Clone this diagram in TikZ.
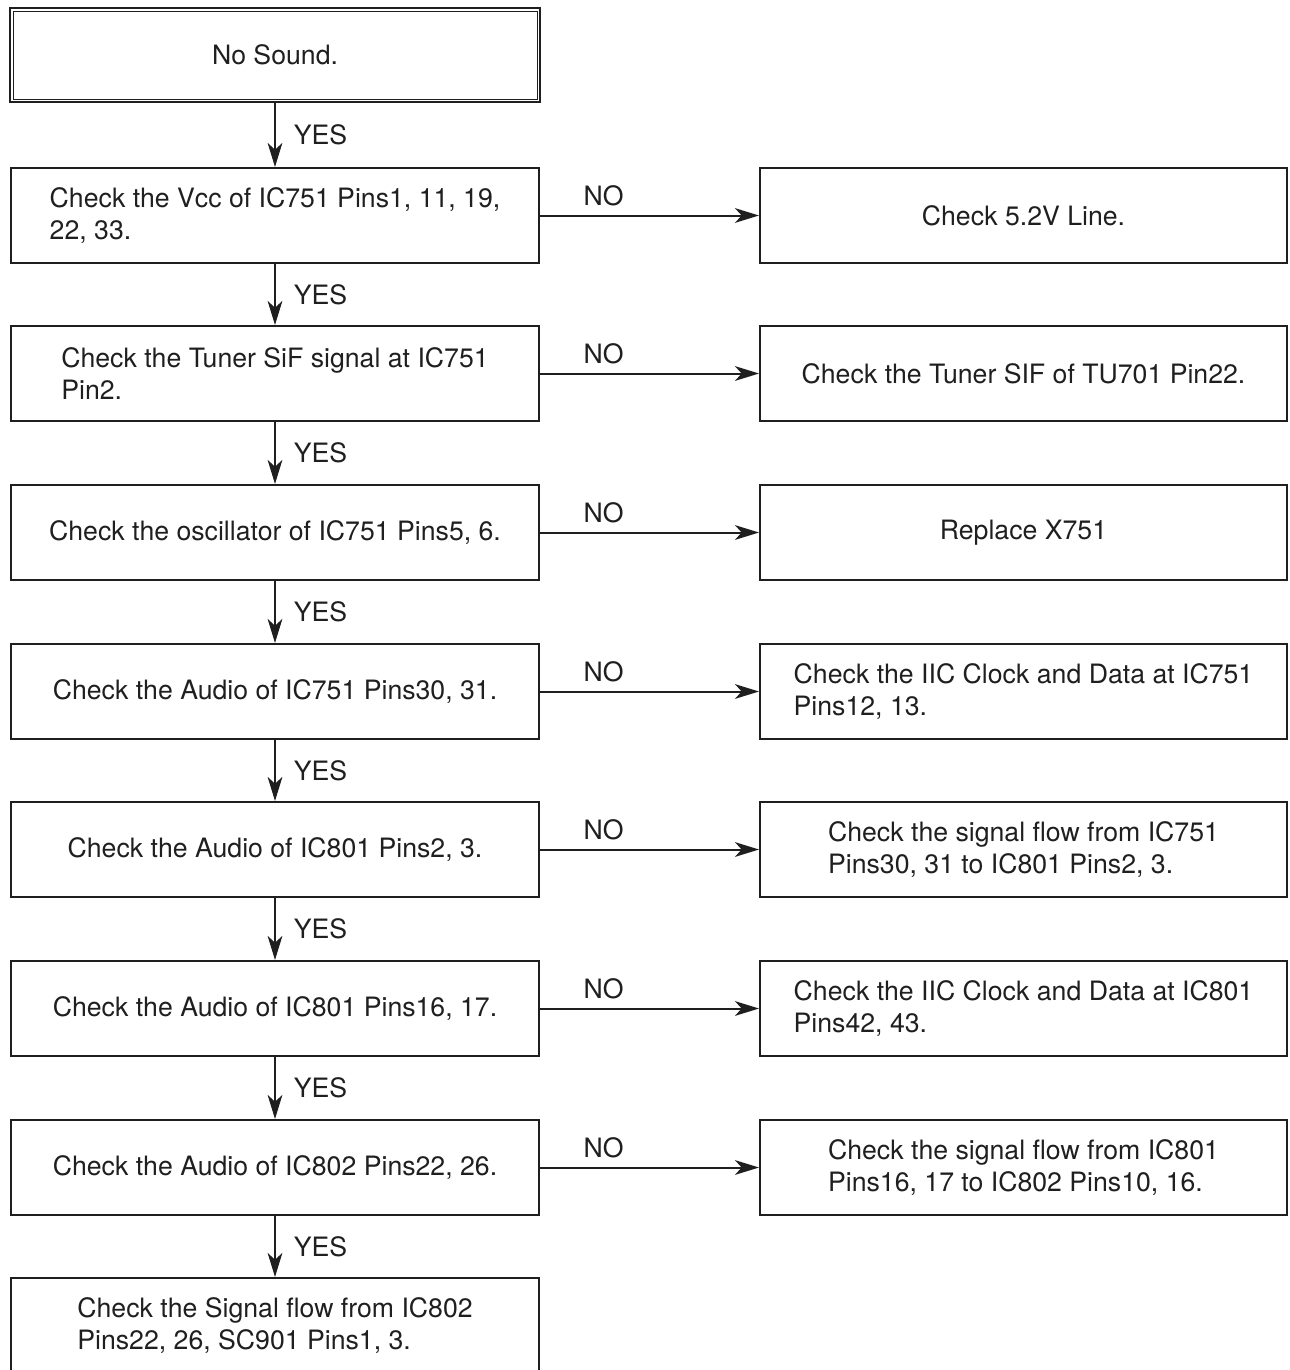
\documentclass[tikz,border=0pt]{standalone}
\usepackage{fontspec}
\setmainfont{TeX Gyre Heros}
\usetikzlibrary{arrows.meta,calc}
\tikzset{
  startbox/.style={draw,line width=1.5pt,minimum width=397.5pt,minimum height=70.5pt},
  checkbox/.style={draw,line width=1.5pt,minimum width=396pt,minimum height=71.25pt,align=left},
  fixbox/.style={draw,line width=1.5pt,minimum width=395.25pt,minimum height=71.25pt,align=left},
  flowline/.style={-{Stealth[length=18pt,width=11pt,inset=5pt]},line width=1.5pt},
  yesmark/.style={right=10pt},
  nomark/.style={pos=0.29,above=3pt},
}
\begin{document}
\begin{tikzpicture}[x=0.75pt,y=-0.75pt,font=\fontsize{20}{24}\selectfont,color=black!88]
  \useasboundingbox (0,0) rectangle (1289,1370);
  \node[startbox] (start) at (275,55) {No Sound.};
  \draw[line width=0.6pt] ($(start.north west)+(3pt,-3pt)$) rectangle ($(start.south east)+(-3pt,3pt)$);
  \node[checkbox] (vcc) at (275,215.5) {Check the Vcc of IC751 Pins1, 11, 19,\\22, 33.};
  \node[checkbox] (sif) at (275,373.5) {Check the Tuner SiF signal at IC751\\Pin2.};
  \node[checkbox] (osc) at (275,532.5) {Check the oscillator of IC751 Pins5, 6.};
  \node[checkbox] (aud1) at (275,691.5) {Check the Audio of IC751 Pins30, 31.};
  \node[checkbox] (aud2) at (275,849.5) {Check the Audio of IC801 Pins2, 3.};
  \node[checkbox] (aud3) at (275,1008.5) {Check the Audio of IC801 Pins16, 17.};
  \node[checkbox] (aud4) at (275,1167.5) {Check the Audio of IC802 Pins22, 26.};
  \node[checkbox] (last) at (275,1325.5) {Check the Signal flow from IC802\\Pins22, 26, SC901 Pins1, 3.};
  \node[fixbox] (vccfix) at (1023.5,215.5) {Check 5.2V Line.};
  \node[fixbox] (siffix) at (1023.5,373.5) {Check the Tuner SIF of TU701 Pin22.};
  \node[fixbox] (oscfix) at (1023.5,532.5) {Replace X751};
  \node[fixbox] (aud1fix) at (1023.5,691.5) {Check the IIC Clock and Data at IC751\\Pins12, 13.};
  \node[fixbox] (aud2fix) at (1023.5,849.5) {Check the signal flow from IC751\\Pins30, 31 to IC801 Pins2, 3.};
  \node[fixbox] (aud3fix) at (1023.5,1008.5) {Check the IIC Clock and Data at IC801\\Pins42, 43.};
  \node[fixbox] (aud4fix) at (1023.5,1167.5) {Check the signal flow from IC801\\Pins16, 17 to IC802 Pins10, 16.};
  \draw[flowline] (start) -- node[yesmark]{YES} (vcc);
  \draw[flowline] (vcc) -- node[yesmark]{YES} (sif);
  \draw[flowline] (sif) -- node[yesmark]{YES} (osc);
  \draw[flowline] (osc) -- node[yesmark]{YES} (aud1);
  \draw[flowline] (aud1) -- node[yesmark]{YES} (aud2);
  \draw[flowline] (aud2) -- node[yesmark]{YES} (aud3);
  \draw[flowline] (aud3) -- node[yesmark]{YES} (aud4);
  \draw[flowline] (aud4) -- node[yesmark]{YES} (last);
  \draw[flowline] (vcc) -- node[nomark]{NO} (vccfix);
  \draw[flowline] (sif) -- node[nomark]{NO} (siffix);
  \draw[flowline] (osc) -- node[nomark]{NO} (oscfix);
  \draw[flowline] (aud1) -- node[nomark]{NO} (aud1fix);
  \draw[flowline] (aud2) -- node[nomark]{NO} (aud2fix);
  \draw[flowline] (aud3) -- node[nomark]{NO} (aud3fix);
  \draw[flowline] (aud4) -- node[nomark]{NO} (aud4fix);
\end{tikzpicture}
\end{document}
